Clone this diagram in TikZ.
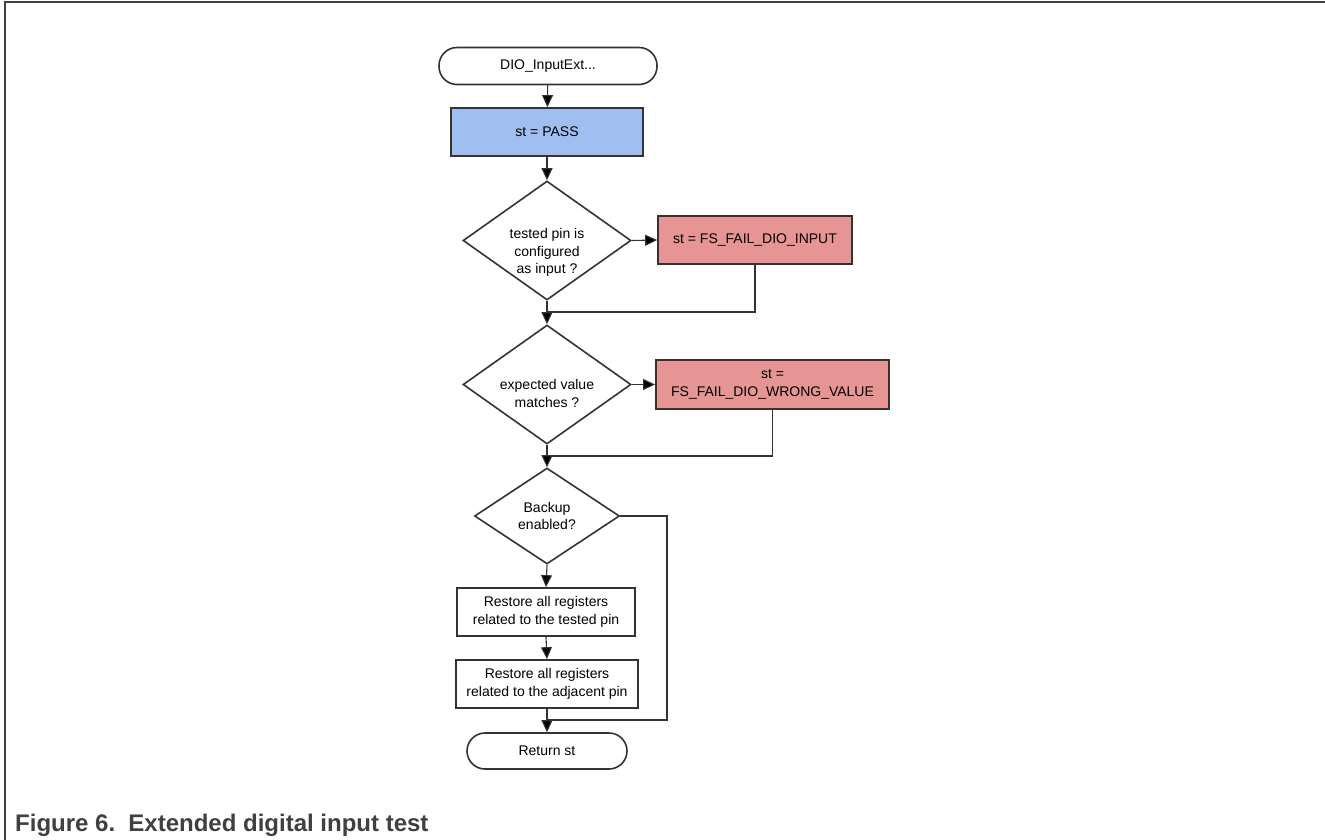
\documentclass[tikz,border=0pt]{standalone}
\usepackage{fontspec}
\setmainfont{Liberation Sans}
\usetikzlibrary{shapes.geometric,arrows.meta}
\definecolor{edge}{HTML}{333333}
\definecolor{passfill}{HTML}{A0BEEF}
\definecolor{failfill}{HTML}{E69494}
\definecolor{captxt}{HTML}{404040}
\tikzset{
  txt/.style={font=\fontsize{14}{17.5}\selectfont, align=center, text=black},
  term/.style={txt, draw=edge, line width=1.6pt, rounded corners=18pt, inner sep=0pt},
  proc/.style={txt, draw=edge, line width=1.8pt, rectangle, inner sep=0pt},
  dec/.style={draw=edge, line width=1.6pt, diamond, inner sep=0pt, aspect=1.4},
  conn/.style={draw=edge, line width=1.1pt},
  arr/.style={conn, -{Triangle[length=12pt,width=11pt,fill=black]}}
}
\begin{document}
\begin{tikzpicture}[x=1pt,y=-1pt]
\useasboundingbox (0,0) rectangle (1325,840);
\draw[draw=captxt, line width=1.6pt] (5,840) -- (5,2) -- (1325,2);

\node[term, minimum width=218pt, minimum height=37pt] (start) at (548,66) {DIO\_InputExt...};
\node[proc, fill=passfill, minimum width=192pt, minimum height=48pt] (pass) at (547,132) {st = PASS};
\node[dec, minimum width=168pt, minimum height=119pt,
      label={[txt,yshift=-12pt]center:tested pin is\\configured\\as input ?}] (d1) at (547,240.5) {};
\node[proc, fill=failfill, minimum width=194pt, minimum height=48pt] (f1) at (755,240) {st = FS\_FAIL\_DIO\_INPUT};
\coordinate (m1) at (547,312);
\node[dec, minimum width=168pt, minimum height=119pt,
      label={[txt,yshift=-9pt]center:expected value\\matches ?}] (d2) at (547,384.5) {};
\node[proc, fill=failfill, minimum width=233pt, minimum height=49pt] (f2) at (772.5,384.5) {st =\\FS\_FAIL\_DIO\_WRONG\_VALUE};
\coordinate (m2) at (547,456);
\node[dec, minimum width=145pt, minimum height=96pt, txt] (d3) at (547,516) {Backup\\enabled?};
\node[proc, minimum width=178pt, minimum height=48pt] (r1) at (546,612) {Restore all registers\\related to the tested pin};
\node[proc, minimum width=182pt, minimum height=48pt] (r2) at (547,684) {Restore all registers\\related to the adjacent pin};
\coordinate (b3) at (667,720);
\coordinate (m3) at (547,720);
\node[term, minimum width=160pt, minimum height=36pt] (ret) at (547,751) {Return st};

\draw[arr] (start) -- (pass);
\draw[arr] (pass) -- (d1);
\draw[arr] (d1.east) -- (f1.west);
\draw[conn] (f1.south) |- (m1);
\draw[arr] (d1.south) -- (d2.north);
\draw[arr] (d2.east) -- (f2.west);
\draw[conn] (f2.south) |- (m2);
\draw[arr] (d2.south) -- (d3.north);
\draw[arr] (d3.south) -- (r1.north);
\draw[arr] (r1.south) -- (r2.north);
\draw[arr] (r2.south) -- (ret.north);
\draw[conn] (d3.east) -| (b3) -- (m3);

\node[anchor=base west, inner sep=0pt, text=captxt, font=\fontsize{24}{27}\selectfont\bfseries] (cap) at (15,831) {Figure 6.\hspace{0.55em}Extended digital input test};
\end{tikzpicture}
\end{document}
